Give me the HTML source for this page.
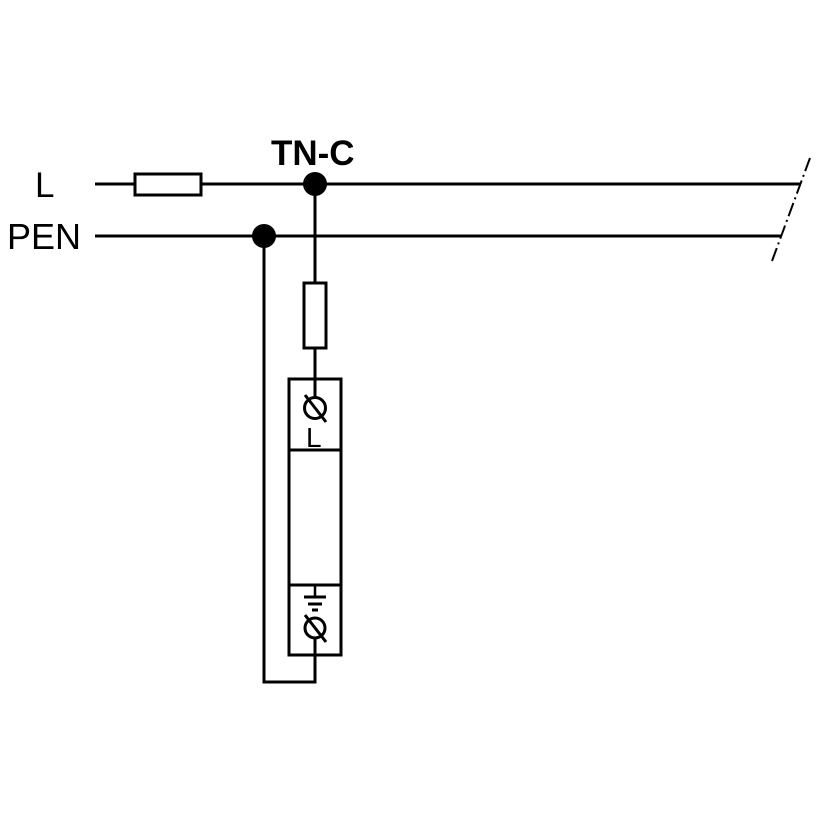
<!DOCTYPE html>
<html><head><style>body{margin:0;background:#fff}svg{display:block}</style></head><body>
<svg width="820" height="820" viewBox="0 0 820 820" xmlns="http://www.w3.org/2000/svg">
<rect width="820" height="820" fill="#fff"/>
<g stroke="#000" stroke-width="3" fill="none">
<line x1="95" y1="184" x2="800" y2="184"/>
<line x1="95" y1="236" x2="781" y2="236"/>
<rect x="135" y="174" width="66" height="21" fill="#fff"/>
<line x1="315" y1="184" x2="315" y2="378"/>
<rect x="304" y="283" width="22" height="65" fill="#fff"/>
<polyline points="264,236 264,682 315,682 315,656"/>
<rect x="289" y="379" width="52" height="276" fill="#fff"/>
<line x1="289" y1="450" x2="341" y2="450"/>
<line x1="289" y1="585" x2="341" y2="585"/>
<line x1="315" y1="379" x2="315" y2="397"/>
<circle cx="315" cy="408" r="10.5" stroke-width="3"/>
<line x1="305" y1="395" x2="326" y2="422" stroke-width="3"/>
<circle cx="315" cy="628" r="10" stroke-width="3"/>
<line x1="305" y1="615" x2="326" y2="642" stroke-width="3"/>
<line x1="315" y1="638" x2="315" y2="656"/>
<line x1="315" y1="586" x2="315" y2="597" stroke-width="2.5"/>
<line x1="304" y1="597" x2="326" y2="597" stroke-width="3"/>
<line x1="308" y1="604" x2="322" y2="604" stroke-width="3"/>
<line x1="312" y1="610" x2="318" y2="610" stroke-width="3"/>
<line x1="810" y1="158" x2="772" y2="261" stroke-width="2" stroke-dasharray="14,4,2,4"/>
</g>
<circle cx="315" cy="184" r="12" fill="#000"/>
<circle cx="264" cy="236" r="12" fill="#000"/>
<g font-family="Liberation Sans, sans-serif" fill="#000">
<text x="35" y="197" font-size="35">L</text>
<text x="7" y="249" font-size="36">PEN</text>
<text x="271" y="165" font-size="35" font-weight="bold">TN-C</text>
<text x="306" y="447" font-size="28">L</text>
</g>
</svg>
</body></html>
